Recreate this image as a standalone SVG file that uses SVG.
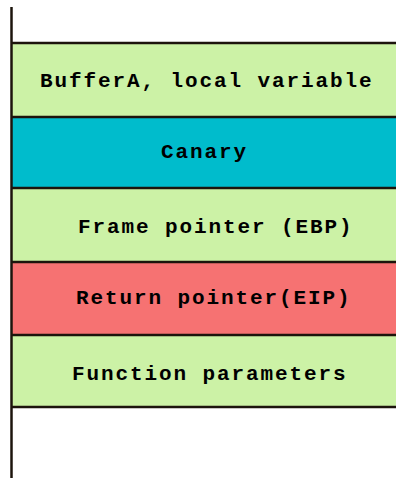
<svg xmlns="http://www.w3.org/2000/svg" width="396" height="478" viewBox="0 0 396 478">
<style>
.green{fill:#ccf2a6}
.cyan{fill:#00bccc}
.red{fill:#f67272}
.sep{stroke:#1c140c;stroke-width:2.5;fill:none}
.lbl{font-family:"Liberation Mono","Courier New",monospace;font-weight:bold;font-size:21px;letter-spacing:1.9px;fill:#000}
</style>
<rect width="396" height="478" fill="#fff"/>
<g id="buffer">
<rect class="green" x="12" y="43" width="384" height="74"/>
<text class="lbl" x="40" y="87">BufferA, local variable</text>
</g>
<g id="canary">
<rect class="cyan" x="12" y="117" width="384" height="71"/>
<text class="lbl" x="161" y="158">Canary</text>
</g>
<g id="ebp">
<rect class="green" x="12" y="188" width="384" height="74"/>
<text class="lbl" x="78" y="233">Frame pointer (EBP)</text>
</g>
<g id="eip">
<rect class="red" x="12" y="262" width="384" height="73"/>
<text class="lbl" x="76" y="304">Return pointer(EIP)</text>
</g>
<g id="params">
<rect class="green" x="12" y="335" width="384" height="72"/>
<text class="lbl" x="72" y="380">Function parameters</text>
</g>
<g id="connectors">
<line class="sep" x1="11.5" y1="7" x2="11.5" y2="478"/>
<line class="sep" x1="11" y1="43" x2="396" y2="43"/>
<line class="sep" x1="11" y1="117" x2="396" y2="117"/>
<line class="sep" x1="11" y1="188" x2="396" y2="188"/>
<line class="sep" x1="11" y1="262" x2="396" y2="262"/>
<line class="sep" x1="11" y1="335" x2="396" y2="335"/>
<line class="sep" x1="11" y1="407" x2="396" y2="407"/>
</g>
</svg>
